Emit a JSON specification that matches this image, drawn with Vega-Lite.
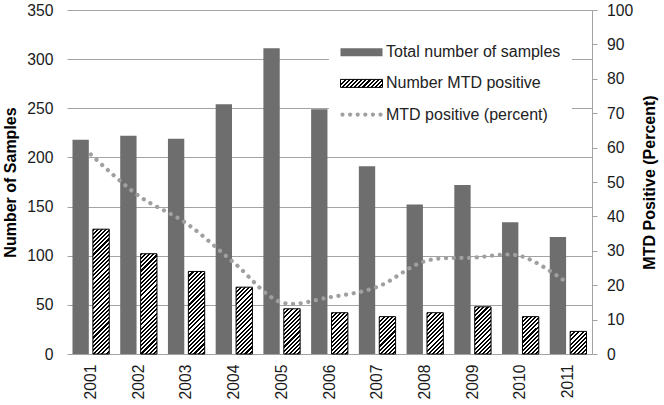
{
  "$schema": "https://vega.github.io/schema/vega-lite/v6.json",
  "width": 525,
  "height": 344,
  "autosize": "none",
  "padding": {"left": 67, "top": 10, "right": 72, "bottom": 51},
  "background": "white",
  "config": {"font": "Liberation Sans", "view": {"stroke": null}},
  "params": [
    {"name": "hs", "value": [
      {"offset":0,"color":"#000"},{"offset":0.014,"color":"#000"},
      {"offset":0.014,"color":"#fff"},{"offset":0.028,"color":"#fff"},
      {"offset":0.028,"color":"#000"},{"offset":0.042,"color":"#000"},
      {"offset":0.042,"color":"#fff"},{"offset":0.056,"color":"#fff"},
      {"offset":0.056,"color":"#000"},{"offset":0.07,"color":"#000"},
      {"offset":0.07,"color":"#fff"},{"offset":0.084,"color":"#fff"},
      {"offset":0.084,"color":"#000"},{"offset":0.098,"color":"#000"},
      {"offset":0.098,"color":"#fff"},{"offset":0.112,"color":"#fff"},
      {"offset":0.112,"color":"#000"},{"offset":0.126,"color":"#000"},
      {"offset":0.126,"color":"#fff"},{"offset":0.14,"color":"#fff"},
      {"offset":0.14,"color":"#000"},{"offset":0.154,"color":"#000"},
      {"offset":0.154,"color":"#fff"},{"offset":0.168,"color":"#fff"},
      {"offset":0.168,"color":"#000"},{"offset":0.182,"color":"#000"},
      {"offset":0.182,"color":"#fff"},{"offset":0.196,"color":"#fff"},
      {"offset":0.196,"color":"#000"},{"offset":0.21,"color":"#000"},
      {"offset":0.21,"color":"#fff"},{"offset":0.224,"color":"#fff"},
      {"offset":0.224,"color":"#000"},{"offset":0.238,"color":"#000"},
      {"offset":0.238,"color":"#fff"},{"offset":0.252,"color":"#fff"},
      {"offset":0.252,"color":"#000"},{"offset":0.266,"color":"#000"},
      {"offset":0.266,"color":"#fff"},{"offset":0.28,"color":"#fff"},
      {"offset":0.28,"color":"#000"},{"offset":0.294,"color":"#000"},
      {"offset":0.294,"color":"#fff"},{"offset":0.308,"color":"#fff"},
      {"offset":0.308,"color":"#000"},{"offset":0.322,"color":"#000"},
      {"offset":0.322,"color":"#fff"},{"offset":0.336,"color":"#fff"},
      {"offset":0.336,"color":"#000"},{"offset":0.35,"color":"#000"},
      {"offset":0.35,"color":"#fff"},{"offset":0.364,"color":"#fff"},
      {"offset":0.364,"color":"#000"},{"offset":0.378,"color":"#000"},
      {"offset":0.378,"color":"#fff"},{"offset":0.392,"color":"#fff"},
      {"offset":0.392,"color":"#000"},{"offset":0.406,"color":"#000"},
      {"offset":0.406,"color":"#fff"},{"offset":0.42,"color":"#fff"},
      {"offset":0.42,"color":"#000"},{"offset":0.434,"color":"#000"},
      {"offset":0.434,"color":"#fff"},{"offset":0.448,"color":"#fff"},
      {"offset":0.448,"color":"#000"},{"offset":0.462,"color":"#000"},
      {"offset":0.462,"color":"#fff"},{"offset":0.476,"color":"#fff"},
      {"offset":0.476,"color":"#000"},{"offset":0.49,"color":"#000"},
      {"offset":0.49,"color":"#fff"},{"offset":0.504,"color":"#fff"},
      {"offset":0.504,"color":"#000"},{"offset":0.518,"color":"#000"},
      {"offset":0.518,"color":"#fff"},{"offset":0.532,"color":"#fff"},
      {"offset":0.532,"color":"#000"},{"offset":0.546,"color":"#000"},
      {"offset":0.546,"color":"#fff"},{"offset":0.56,"color":"#fff"},
      {"offset":0.56,"color":"#000"},{"offset":0.574,"color":"#000"},
      {"offset":0.574,"color":"#fff"},{"offset":0.588,"color":"#fff"},
      {"offset":0.588,"color":"#000"},{"offset":0.602,"color":"#000"},
      {"offset":0.602,"color":"#fff"},{"offset":0.616,"color":"#fff"},
      {"offset":0.616,"color":"#000"},{"offset":0.63,"color":"#000"},
      {"offset":0.63,"color":"#fff"},{"offset":0.644,"color":"#fff"},
      {"offset":0.644,"color":"#000"},{"offset":0.658,"color":"#000"},
      {"offset":0.658,"color":"#fff"},{"offset":0.672,"color":"#fff"},
      {"offset":0.672,"color":"#000"},{"offset":0.686,"color":"#000"},
      {"offset":0.686,"color":"#fff"},{"offset":0.7,"color":"#fff"},
      {"offset":0.7,"color":"#000"},{"offset":0.714,"color":"#000"},
      {"offset":0.714,"color":"#fff"},{"offset":0.728,"color":"#fff"},
      {"offset":0.728,"color":"#000"},{"offset":0.742,"color":"#000"},
      {"offset":0.742,"color":"#fff"},{"offset":0.756,"color":"#fff"},
      {"offset":0.756,"color":"#000"},{"offset":0.77,"color":"#000"},
      {"offset":0.77,"color":"#fff"},{"offset":0.784,"color":"#fff"},
      {"offset":0.784,"color":"#000"},{"offset":0.798,"color":"#000"},
      {"offset":0.798,"color":"#fff"},{"offset":0.812,"color":"#fff"},
      {"offset":0.812,"color":"#000"},{"offset":0.826,"color":"#000"},
      {"offset":0.826,"color":"#fff"},{"offset":0.84,"color":"#fff"},
      {"offset":0.84,"color":"#000"},{"offset":0.854,"color":"#000"},
      {"offset":0.854,"color":"#fff"},{"offset":0.868,"color":"#fff"},
      {"offset":0.868,"color":"#000"},{"offset":0.882,"color":"#000"},
      {"offset":0.882,"color":"#fff"},{"offset":0.896,"color":"#fff"},
      {"offset":0.896,"color":"#000"},{"offset":0.91,"color":"#000"},
      {"offset":0.91,"color":"#fff"},{"offset":0.924,"color":"#fff"},
      {"offset":0.924,"color":"#000"},{"offset":0.938,"color":"#000"},
      {"offset":0.938,"color":"#fff"},{"offset":0.952,"color":"#fff"},
      {"offset":0.952,"color":"#000"},{"offset":0.966,"color":"#000"},
      {"offset":0.966,"color":"#fff"},{"offset":0.98,"color":"#fff"},
      {"offset":0.98,"color":"#000"},{"offset":1,"color":"#000"}
    ]}
  ],
  "datasets": {
    "bars": [
      {"year": "2001", "series": "Total number of samples", "count": 218},
      {"year": "2002", "series": "Total number of samples", "count": 222},
      {"year": "2003", "series": "Total number of samples", "count": 219},
      {"year": "2004", "series": "Total number of samples", "count": 254},
      {"year": "2005", "series": "Total number of samples", "count": 311},
      {"year": "2006", "series": "Total number of samples", "count": 249},
      {"year": "2007", "series": "Total number of samples", "count": 191},
      {"year": "2008", "series": "Total number of samples", "count": 152},
      {"year": "2009", "series": "Total number of samples", "count": 172},
      {"year": "2010", "series": "Total number of samples", "count": 134},
      {"year": "2011", "series": "Total number of samples", "count": 119},
      {"year": "2001", "series": "Number MTD positive", "count": 127},
      {"year": "2002", "series": "Number MTD positive", "count": 102},
      {"year": "2003", "series": "Number MTD positive", "count": 84},
      {"year": "2004", "series": "Number MTD positive", "count": 68},
      {"year": "2005", "series": "Number MTD positive", "count": 46},
      {"year": "2006", "series": "Number MTD positive", "count": 42},
      {"year": "2007", "series": "Number MTD positive", "count": 38},
      {"year": "2008", "series": "Number MTD positive", "count": 42},
      {"year": "2009", "series": "Number MTD positive", "count": 48},
      {"year": "2010", "series": "Number MTD positive", "count": 38},
      {"year": "2011", "series": "Number MTD positive", "count": 23}
    ],
    "pct": [
      {"year": "2001", "pct": 58},
      {"year": "2002", "pct": 46},
      {"year": "2003", "pct": 38},
      {"year": "2004", "pct": 26.5},
      {"year": "2005", "pct": 15},
      {"year": "2006", "pct": 16.5},
      {"year": "2007", "pct": 19.5},
      {"year": "2008", "pct": 27},
      {"year": "2009", "pct": 28},
      {"year": "2010", "pct": 28.5},
      {"year": "2011", "pct": 20.5}
    ]
  },
  "layer": [
    {
      "data": {"name": "bars"},
      "mark": {"type": "bar", "strokeWidth": 1},
      "encoding": {
        "x": {
          "field": "year", "type": "nominal",
          "scale": {"paddingInner": 0.23, "paddingOuter": 0.115},
          "axis": {
            "title": null, "labelAngle": -90, "labelFontSize": 15.7, "labelColor": "#1a1a1a",
            "labelPadding": 10, "ticks": false, "tickSize": 0, "domain": false
          }
        },
        "xOffset": {
          "field": "series", "type": "nominal",
          "scale": {"domain": ["Total number of samples", "Number MTD positive"], "paddingInner": 0.2, "paddingOuter": 0}
        },
        "y": {
          "field": "count", "type": "quantitative",
          "scale": {"domain": [0, 350], "nice": false},
          "axis": {
            "title": "Number of Samples", "titleFontSize": 16, "titleFontWeight": "bold", "titleColor": "#000",
            "titlePadding": 8,
            "values": [0, 50, 100, 150, 200, 250, 300, 350],
            "labelFontSize": 15.7, "labelColor": "#1a1a1a", "labelPadding": 14,
            "ticks": false, "tickSize": 0, "domain": false,
            "grid": true, "gridColor": "#a3a3a3", "gridWidth": 1
          }
        },
        "color": {
          "condition": {
            "test": "datum.series === 'Number MTD positive'",
            "value": {"expr": "{gradient: 'linear', x1: 0, y1: 0, x2: 16.333*148.2/(266.77+pow(datum.count*0.982857,2)), y2: datum.count*0.982857*148.2/(266.77+pow(datum.count*0.982857,2)), stops: hs}"}
          },
          "value": "#6e6e6e"
        },
        "stroke": {
          "condition": {"test": "datum.series === 'Number MTD positive'", "value": "#000"},
          "value": "transparent"
        },
        "opacity": {
          "field": "series", "type": "ordinal",
          "scale": {
            "domain": ["Total number of samples", "Number MTD positive", "MTD positive (percent)"],
            "range": [1, 1, 1]
          },
          "legend": {
            "title": null,
            "orient": "none", "legendX": 262, "legendY": 9.7,
            "fillColor": "white", "strokeColor": null, "padding": 11,
            "labelFontSize": 16, "labelColor": "#222", "labelOffset": 3, "labelLimit": 400,
            "symbolSize": 1764, "symbolStrokeWidth": 1, "symbolOpacity": 1,
            "rowPadding": 1.2,
            "encoding": {
              "symbols": {
                "shape": {
                  "condition": {"test": "datum.value === 'MTD positive (percent)'", "value": "M-1.005,0a0.1,0.1 0 1,0 0.2,0a0.1,0.1 0 1,0 -0.2,0M-0.643,0a0.1,0.1 0 1,0 0.2,0a0.1,0.1 0 1,0 -0.2,0M-0.281,0a0.1,0.1 0 1,0 0.2,0a0.1,0.1 0 1,0 -0.2,0M0.081,0a0.1,0.1 0 1,0 0.2,0a0.1,0.1 0 1,0 -0.2,0M0.443,0a0.1,0.1 0 1,0 0.2,0a0.1,0.1 0 1,0 -0.2,0M0.805,0a0.1,0.1 0 1,0 0.2,0a0.1,0.1 0 1,0 -0.2,0"},
                  "value": "M-1,-0.19H1V0.19H-1Z"
                },
                "fill": {
                  "condition": [
                    {"test": "datum.value === 'Number MTD positive'", "value": {"expr": "{gradient: 'linear', x1: 0, y1: 0, x2: 3.405, y2: 0.6486, stops: hs}"}},
                    {"test": "datum.value === 'MTD positive (percent)'", "value": "#a0a0a0"}
                  ],
                  "value": "#6e6e6e"
                },
                "stroke": {
                  "condition": {"test": "datum.value === 'Number MTD positive'", "value": "#000000"},
                  "value": "transparent"
                },
                "strokeWidth": {"value": 1}
              }
            }
          }
        }
      }
    },
    {
      "data": {"name": "pct"},
      "mark": {"type": "line", "interpolate": "catmull-rom", "strokeWidth": 4.2, "strokeDash": [0.1, 7.6], "strokeCap": "round", "color": "#a0a0a0"},
      "encoding": {
        "x": {"field": "year", "type": "nominal"},
        "y": {
          "field": "pct", "type": "quantitative",
          "scale": {"domain": [0, 100], "nice": false},
          "axis": {
            "orient": "right",
            "title": "MTD Positive (Percent)", "titleFontSize": 16, "titleFontWeight": "bold", "titleColor": "#000",
            "titleAngle": 270, "titleBaseline": "top", "titlePadding": 9,
            "values": [0, 10, 20, 30, 40, 50, 60, 70, 80, 90, 100],
            "labelFontSize": 15.7, "labelColor": "#1a1a1a", "labelPadding": 9.5,
            "ticks": true, "tickSize": 5, "tickColor": "#a3a3a3",
            "domain": true, "domainColor": "#a3a3a3", "grid": false
          }
        },
        "opacity": {"datum": "MTD positive (percent)", "type": "ordinal"}
      }
    }
  ],
  "resolve": {"scale": {"y": "independent"}, "axis": {"y": "independent"}}
}
